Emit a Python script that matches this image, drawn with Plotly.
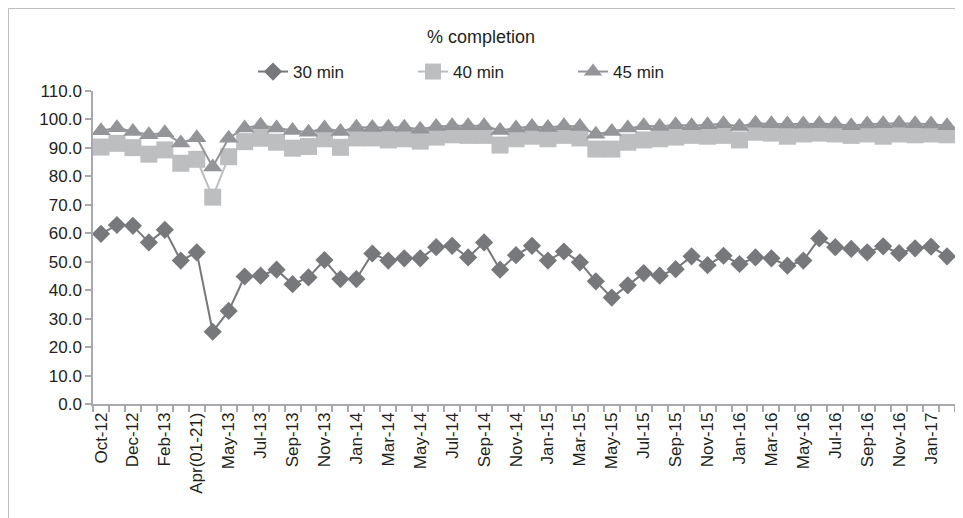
import plotly.graph_objects as go

categories = [
    "Oct-12", "Nov-12", "Dec-12", "Jan-13", "Feb-13", "Mar-13", "Apr(01-21)", "Apr(22-30)",
    "May-13", "Jun-13", "Jul-13", "Aug-13", "Sep-13", "Oct-13", "Nov-13", "Dec-13",
    "Jan-14", "Feb-14", "Mar-14", "Apr-14", "May-14", "Jun-14", "Jul-14", "Aug-14",
    "Sep-14", "Oct-14", "Nov-14", "Dec-14", "Jan-15", "Feb-15", "Mar-15", "Apr-15",
    "May-15", "Jun-15", "Jul-15", "Aug-15", "Sep-15", "Oct-15", "Nov-15", "Dec-15",
    "Jan-16", "Feb-16", "Mar-16", "Apr-16", "May-16", "Jun-16", "Jul-16", "Aug-16",
    "Sep-16", "Oct-16", "Nov-16", "Dec-16", "Jan-17", "Feb-17",
]

min30 = [
    59.8, 62.9, 62.6, 56.8, 61.2, 50.4, 53.3, 25.4, 32.7, 44.8,
    45.1, 47.2, 42.1, 44.5, 50.6, 43.9, 43.9, 52.9, 50.4, 51.2,
    51.2, 55.1, 55.6, 51.5, 56.8, 47.2, 52.3, 55.6, 50.4, 53.6,
    49.8, 43.1, 37.4, 41.7, 46.0, 45.1, 47.4, 51.9, 48.8, 52.1,
    49.2, 51.5, 51.2, 48.6, 50.4, 58.2, 55.1, 54.5, 53.3, 55.4,
    53.0, 54.7, 55.3, 51.9,
]

min40 = [
    90.3, 91.6, 90.1, 87.8, 89.3, 84.6, 86.0, 72.7, 86.9, 92.2,
    93.4, 92.0, 89.9, 90.5, 93.2, 90.2, 93.5, 93.5, 92.8, 93.2,
    92.4, 93.8, 94.6, 94.4, 94.4, 91.0, 93.2, 94.1, 93.2, 94.4,
    93.5, 89.6, 89.6, 92.0, 92.8, 93.2, 93.8, 94.4, 94.1, 94.4,
    92.8, 95.5, 95.2, 94.1, 94.9, 95.2, 94.9, 94.4, 94.9, 94.1,
    94.9, 94.6, 94.9, 94.6,
]

min45 = [
    96.0, 97.1, 95.8, 94.6, 95.3, 91.7, 93.6, 83.3, 93.4, 97.0,
    98.0, 97.0, 96.1, 95.5, 97.0, 95.8, 97.3, 97.2, 97.3, 97.3,
    96.6, 97.5, 97.8, 97.8, 97.8, 96.1, 97.0, 97.5, 97.2, 97.8,
    97.5, 94.8, 95.8, 97.0, 97.8, 97.5, 98.1, 97.8, 98.1, 98.5,
    97.5, 98.7, 98.5, 98.4, 98.4, 98.5, 98.4, 97.8, 98.4, 98.5,
    98.7, 98.5, 98.4, 97.8,
]

series_names = ["30 min", "40 min", "45 min"]
y_ticks = [0, 10, 20, 30, 40, 50, 60, 70, 80, 90, 100, 110]

FONT = "Liberation Sans, Arial, sans-serif"
TXT = "#231f20"
x_idx = list(range(len(categories)))

fig = go.Figure()
fig.add_trace(go.Scatter(
    x=x_idx, y=min30, name=series_names[0], mode="lines+markers",
    line=dict(color="#77787b", width=2),
    marker=dict(symbol="diamond", size=14, color="#77787b"),
))
fig.add_trace(go.Scatter(
    x=x_idx, y=min40, name=series_names[1], mode="lines+markers",
    line=dict(color="#bcbec0", width=2),
    marker=dict(symbol="square", size=17, color="#bcbec0"),
))
fig.add_trace(go.Scatter(
    x=x_idx, y=min45, name=series_names[2], mode="lines+markers",
    line=dict(color="#939598", width=2),
    marker=dict(symbol="triangle-up", size=17, color="#939598"),
))

label_vals = [i for i in x_idx if i % 2 == 0]
label_text = [categories[i] for i in label_vals]
boundaries = [i - 0.5 for i in x_idx] + [len(categories) - 0.5]

# page has an 8px body margin; figure coordinates are page minus 8
W, H = 963, 518
L, R, T, B = 85, 16, 83, 122
pw, ph = W - L - R, H - T - B

def px_x(px):
    return (px - L) / pw

def px_y(py):
    return (H - B - py) / ph

fig.update_layout(
    width=W, height=H,
    margin=dict(l=L, r=R, t=T, b=B, autoexpand=False),
    paper_bgcolor="white", plot_bgcolor="white",
    font=dict(family=FONT, size=17, color=TXT),
    title=dict(text="% completion", x=473 / W, xref="container",
               xanchor="center", y=1 - 29 / H, yref="container", yanchor="middle",
               font=dict(size=18, color=TXT)),
    showlegend=True,
    legend=dict(orientation="h", x=px_x(245), xanchor="left", xref="paper",
                y=px_y(64), yref="paper", yanchor="middle",
                font=dict(size=17, color=TXT), entrywidth=115, entrywidthmode="pixels",
                bgcolor="rgba(0,0,0,0)"),
    xaxis=dict(
        range=[-0.5, len(categories) - 0.5], automargin=False,
        tickmode="array", tickvals=label_vals, ticktext=label_text,
        tickangle=-90, ticks="", showgrid=False, zeroline=False,
        showline=True, linecolor="#a7a9ac", linewidth=1.5,
        tickfont=dict(size=17, color=TXT),
        minor=dict(tickmode="array", tickvals=boundaries, ticks="outside",
                   ticklen=6, tickcolor="#a7a9ac", tickwidth=1.5, showgrid=False),
    ),
    yaxis=dict(
        range=[0, 110], tickmode="array", tickvals=y_ticks, automargin=False,
        tickformat=".1f", ticks="outside", ticklen=6, tickcolor="#a7a9ac",
        tickwidth=1.5, showgrid=False, zeroline=False,
        showline=True, linecolor="#a7a9ac", linewidth=1.5,
        tickfont=dict(size=17, color=TXT),
    ),
    shapes=[dict(type="rect", xref="paper", yref="paper",
                 x0=px_x(0.5), x1=px_x(951), y0=px_y(530), y1=px_y(0.5),
                 line=dict(color="#bcbec0", width=1), fillcolor="rgba(0,0,0,0)",
                 layer="below")],
)

fig.write_html("out.html")
